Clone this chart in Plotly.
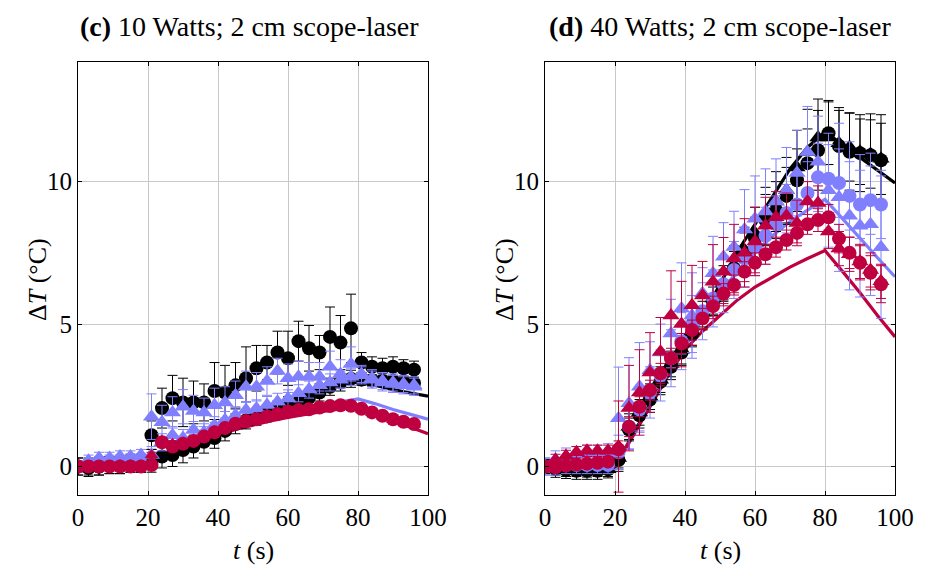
import plotly.graph_objects as go

# ---------------- data ----------------
T = [0, 3, 6, 9, 12, 15, 18, 21, 24, 27, 30, 33, 36, 39, 42, 45, 48, 51, 54, 57,
     60, 63, 66, 69, 72, 75, 78, 81, 84, 87, 90, 93, 96]
T_LINE = [0, 20, 25, 30, 35, 40, 45, 50, 55, 60, 65, 70, 75, 80, 85, 90, 95, 100]
X_TICKS = [0, 20, 40, 60, 80, 100]
Y_TICKS = [0, 5, 10]

# panel (c) 10 W
c_black_hi = [0.0, -0.05, 0.0, 0.05, 0.05, 0.1, 0.1,
              1.1, 2.05, 2.4, 2.25, 2.25, 2.25, 2.65, 2.6, 2.85, 3.1,
              3.45, 3.65, 4.0, 3.8, 4.4, 4.15, 4.0, 4.55, 4.35, 4.85,
              3.65, 3.5, 3.45, 3.5, 3.45, 3.4]
c_black_hi_err = [0.3, 0.3, 0.3, 0.3, 0.3, 0.3, 0.3,
                  0.5, 0.7, 0.8, 0.85, 0.75, 0.65, 1.0, 0.95, 0.8, 1.1,
                  0.8, 0.6, 0.75, 0.95, 0.7, 0.8, 0.6, 1.05, 0.95, 1.2,
                  0.35, 0.35, 0.35, 0.35, 0.3, 0.3]
c_black_lo = [0.0, 0.0, 0.0, 0.05, 0.05, 0.1, 0.1,
              0.2, 0.35, 0.4, 0.58, 0.7, 0.87, 1.0, 1.25, 1.5, 1.62,
              1.75, 1.87, 2.0, 2.15, 2.25, 2.42, 2.6, 2.8, 2.95, 3.08,
              3.05, 3.02, 3.0, 3.0, 2.97, 2.93]
c_black_lo_err = [0.3, 0.3, 0.3, 0.3, 0.3, 0.3, 0.3,
                  0.4, 0.4, 0.4, 0.45, 0.4, 0.4, 0.36, 0.35, 0.35, 0.3,
                  0.3, 0.3, 0.3, 0.3, 0.3, 0.3, 0.3, 0.3, 0.3, 0.3,
                  0.2, 0.2, 0.2, 0.2, 0.2, 0.2]
c_blue_hi = [0.0, 0.2, 0.3, 0.3, 0.35, 0.35, 0.4,
             1.75, 1.55, 1.9, 2.1, 1.95, 1.9, 2.15, 2.25, 2.5, 2.8,
             2.8, 3.0, 3.35, 3.1, 3.15, 3.15, 3.15, 3.5, 3.25, 3.6,
             3.25, 3.1, 3.0, 2.95, 2.9, 2.85]
c_blue_hi_err = [0.2, 0.2, 0.2, 0.2, 0.2, 0.2, 0.2,
                 0.8, 0.6, 0.55, 0.6, 0.55, 0.5, 0.6, 0.55, 0.5, 0.55,
                 0.5, 0.5, 0.45, 0.5, 0.55, 0.5, 0.5, 0.55, 0.5, 0.6,
                 0.3, 0.3, 0.3, 0.3, 0.3, 0.3]
c_blue_lo = [0.0, 0.1, 0.15, 0.2, 0.2, 0.25, 0.25,
             0.4, 0.85, 1.1, 1.0, 1.28, 1.2, 1.45, 1.63, 1.8, 1.98,
             2.04, 2.16, 2.27, 2.39, 2.57, 2.7, 2.85, 2.95, 3.05, 3.15,
             3.2, 3.05, 2.95, 2.9, 2.85, 2.8]
c_blue_lo_err = [0.2, 0.2, 0.2, 0.2, 0.2, 0.2, 0.2,
                 0.3, 0.3, 0.3, 0.3, 0.3, 0.3, 0.3, 0.3, 0.3, 0.3,
                 0.3, 0.3, 0.3, 0.3, 0.3, 0.3, 0.3, 0.3, 0.3, 0.3,
                 0.3, 0.3, 0.3, 0.3, 0.3, 0.3]
c_red = [0.0, 0.0, 0.0, 0.0, 0.0, 0.0, 0.0,
         0.05, 0.85, 0.7, 0.8, 0.9, 1.05, 1.2, 1.35, 1.5, 1.6,
         1.66, 1.76, 1.84, 1.92, 1.98, 2.01, 2.07, 2.12, 2.15, 2.13,
         2.03, 1.9, 1.78, 1.66, 1.57, 1.49]
c_red_err = [0.12, 0.12, 0.12, 0.12, 0.12, 0.12, 0.12,
             0.12, 0.12, 0.12, 0.12, 0.12, 0.12, 0.12, 0.12, 0.12, 0.12,
             0.12, 0.12, 0.12, 0.12, 0.12, 0.12, 0.12, 0.12, 0.12, 0.12,
             0.12, 0.12, 0.12, 0.12, 0.12, 0.12]
c_red_tri = [0.0, 0.02, 0.03, 0.03, 0.05, 0.05, 0.05,
             0.4, 0.9, 0.8, 0.85, 0.95, 1.1, 1.25, 1.4, 1.5, 1.6,
             1.68, 1.78, 1.85, 1.93, 1.98, 2.03, 2.08, 2.12, 2.15, 2.1,
             2.0, 1.88, 1.76, 1.64, 1.55, 1.47]
c_red_tri_err = [0.1, 0.1, 0.1, 0.1, 0.1, 0.1, 0.1,
                 0.1, 0.1, 0.1, 0.1, 0.1, 0.1, 0.1, 0.1, 0.1, 0.1,
                 0.1, 0.1, 0.1, 0.1, 0.1, 0.1, 0.1, 0.1, 0.1, 0.1,
                 0.1, 0.1, 0.1, 0.1, 0.1, 0.1]
c_line_black = [0, 0, 0.45, 0.8, 1.1, 1.35, 1.6, 1.85, 2.05, 2.25, 2.45, 2.65, 2.85, 3.0, 2.85, 2.7, 2.58, 2.47]
c_line_blue = [0, 0, 0.4, 0.7, 0.95, 1.15, 1.35, 1.55, 1.7, 1.85, 2.0, 2.15, 2.27, 2.37, 2.2, 2.0, 1.83, 1.66]
c_line_red = [0, 0, 0.4, 0.65, 0.9, 1.1, 1.3, 1.45, 1.6, 1.72, 1.83, 1.93, 2.02, 2.1, 1.85, 1.6, 1.38, 1.15]

# panel (d) 40 W
d_black_c = [0.0, -0.08, -0.12, -0.15, -0.15, -0.15, -0.1,
             0.23, 1.3, 1.8, 2.35, 2.97, 3.5, 4.0, 4.65, 5.3, 5.8,
             6.35, 6.95, 7.5, 8.0, 8.65, 9.0, 9.5, 10.05, 10.65, 11.1,
             11.7, 11.25, 11.05, 11.0, 10.93, 10.75]
d_black_c_err = [0.25, 0.3, 0.3, 0.3, 0.3, 0.3, 0.3,
                 0.4, 0.4, 0.45, 0.45, 0.45, 0.45, 0.45, 0.45, 0.5, 0.5,
                 0.55, 0.6, 0.7, 0.75, 0.9, 1.0, 1.0, 1.1, 1.2, 1.4,
                 1.1, 1.25, 1.35, 1.35, 1.45, 1.6]
d_black_t = [0.0, -0.05, -0.1, -0.1, -0.12, -0.1, -0.1,
             0.3, 1.4, 1.9, 2.45, 3.05, 3.6, 4.1, 4.75, 5.4, 5.9,
             6.45, 7.05, 7.6, 8.2, 8.8, 9.3, 9.7, 10.5, 11.04, 11.55,
             11.55, 11.35, 11.22, 11.05, 10.97, 10.8]
d_black_t_err = [0.25, 0.25, 0.25, 0.25, 0.25, 0.25, 0.25,
                 0.35, 0.45, 0.45, 0.45, 0.45, 0.45, 0.5, 0.5, 0.5, 0.55,
                 0.6, 0.7, 0.8, 0.9, 1.0, 1.05, 1.15, 1.3, 1.5, 1.35,
                 1.3, 1.25, 1.2, 1.15, 1.2, 1.25]
d_blue_c = [0.0, 0.0, 0.05, 0.05, 0.05, 0.05, 0.05,
            0.5, 1.4, 2.0, 2.6, 3.2, 3.8, 4.4, 5.0, 5.45, 5.9,
            6.4, 6.9, 7.3, 7.7, 8.1, 8.5, 8.9, 9.2, 9.6, 10.15,
            10.1, 9.95, 9.5, 9.2, 9.35, 9.2]
d_blue_c_err = [0.3, 0.3, 0.3, 0.3, 0.3, 0.3, 0.3,
                0.6, 0.8, 0.8, 0.9, 0.9, 1.0, 1.0, 1.0, 1.0, 1.0,
                1.0, 1.0, 1.0, 1.0, 1.0, 1.0, 1.0, 1.1, 1.1, 1.2,
                1.2, 1.2, 1.2, 1.2, 1.2, 1.2]
d_blue_t = [0.0, 0.25, 0.35, 0.4, 0.45, 0.45, 0.5,
            1.69, 2.22, 2.8, 3.38, 4.0, 4.67, 5.55, 5.3, 6.08, 6.78,
            7.36, 7.71, 8.32, 8.7, 8.95, 9.3, 9.7, 10.3, 11.04, 10.7,
            9.7, 9.45, 8.8, 8.45, 8.5, 7.7]
d_blue_t_err = [0.3, 0.3, 0.3, 0.3, 0.3, 0.3, 0.3,
                1.8, 1.6, 1.55, 1.0, 1.0, 1.2, 1.6, 1.5, 0.9, 1.3,
                1.2, 1.25, 1.4, 1.5, 1.5, 1.5, 1.5, 1.5, 1.6, 1.6,
                2.0, 2.6, 2.6, 2.5, 2.5, 2.5]
d_red_c = [0.0, -0.03, 0.03, 0.07, 0.1, 0.13, 0.17,
           0.6, 1.4, 2.1, 2.68, 3.27, 3.8, 4.32, 4.79, 5.2, 5.63,
           6.07, 6.37, 6.84, 7.15, 7.45, 7.7, 7.95, 8.2, 8.5, 8.65,
           8.75, 8.0, 7.5, 7.15, 6.8, 6.4]
d_red_c_err = [0.1, 0.1, 0.1, 0.1, 0.1, 0.1, 0.1,
               0.3, 0.35, 0.35, 0.35, 0.35, 0.35, 0.35, 0.35, 0.35, 0.35,
               0.35, 0.35, 0.35, 0.35, 0.35, 0.35, 0.35, 0.35, 0.35, 0.4,
               0.45, 0.5, 0.55, 0.6, 0.6, 0.65]
d_red_t = [0.0, 0.23, 0.37, 0.5, 0.55, 0.55, 0.55,
           0.7, 2.05, 2.6, 3.3, 4.03, 5.3, 5.0, 5.66, 6.0, 6.49,
           6.84, 7.3, 7.5, 7.9, 8.45, 8.75, 8.8, 8.55, 9.3, 9.25,
           8.25, 7.65, 7.45, 7.2, 6.9, 6.5]
d_red_t_err = [0.2, 0.2, 0.2, 0.2, 0.2, 0.2, 0.2,
               1.6, 1.5, 1.5, 1.4, 1.2, 1.57, 1.5, 1.4, 1.2, 1.3,
               1.2, 1.2, 1.2, 1.2, 1.0, 0.9, 0.8, 0.8, 0.7, 0.6,
               0.6, 0.6, 0.6, 0.6, 0.6, 0.6]
d_line_black = [0, 0, 1.1, 2.2, 3.2, 4.2, 5.25, 6.4, 7.55, 8.5, 9.45, 10.45, 11.2, 11.75, 11.3, 10.85, 10.4, 9.95]
d_line_blue = [0, 0, 1.05, 2.15, 3.2, 4.25, 5.2, 6.1, 6.85, 7.5, 8.1, 8.6, 9.0, 9.38, 8.7, 8.0, 7.33, 6.66]
d_line_red = [0, 0, 1.05, 2.1, 3.15, 4.1, 4.75, 5.3, 5.85, 6.3, 6.65, 7.0, 7.3, 7.58, 6.85, 6.1, 5.3, 4.55]

TITLES = ["<b>(c)</b> 10 Watts; 2 cm scope-laser", "<b>(d)</b> 40 Watts; 2 cm scope-laser"]

# ---------------- style ----------------
BLACK = "#000000"
BLUE = "#8080ff"
RED = "#bf0040"
FONT = "Liberation Serif"
W, H = 930, 568

fig = go.Figure()


def add_line(x, y, color, ax):
    fig.add_trace(go.Scatter(x=x, y=y, mode="lines", line=dict(color=color, width=3.2),
                             xaxis="x" + ax, yaxis="y" + ax, showlegend=False, hoverinfo="skip"))


def add_pts(y, err, color, symbol, ax, size=14):
    fig.add_trace(go.Scatter(
        x=T, y=y, mode="markers",
        marker=dict(color=color, symbol=symbol, size=size, line=dict(width=0)),
        error_y=dict(type="data", array=err, visible=True, color=color, thickness=1, width=5),
        xaxis="x" + ax, yaxis="y" + ax, showlegend=False))


# panel (c)
add_line(T_LINE, c_line_black, BLACK, "")
add_line(T_LINE, c_line_blue, BLUE, "")
add_line(T_LINE, c_line_red, RED, "")
add_pts(c_black_lo, c_black_lo_err, BLACK, "circle", "")
add_pts(c_black_hi, c_black_hi_err, BLACK, "circle", "")
add_pts(c_blue_lo, c_blue_lo_err, BLUE, "triangle-up", "", 15)
add_pts(c_blue_hi, c_blue_hi_err, BLUE, "triangle-up", "", 15)
add_pts(c_red_tri, c_red_tri_err, RED, "triangle-up", "", 12)
add_pts(c_red, c_red_err, RED, "circle", "")

# panel (d)
add_line(T_LINE, d_line_black, BLACK, "2")
add_line(T_LINE, d_line_blue, BLUE, "2")
add_line(T_LINE, d_line_red, RED, "2")
add_pts(d_black_t, d_black_t_err, BLACK, "triangle-up", "2", 15)
add_pts(d_black_c, d_black_c_err, BLACK, "circle", "2")
add_pts(d_blue_c, d_blue_c_err, BLUE, "circle", "2")
add_pts(d_blue_t, d_blue_t_err, BLUE, "triangle-up", "2", 15)
add_pts(d_red_t, d_red_t_err, RED, "triangle-up", "2", 15)
add_pts(d_red_c, d_red_c_err, RED, "circle", "2")


def px_x(p):
    return p / W


def px_y(p):
    return (H - p) / H


TICKFONT = dict(family=FONT, size=25, color="black")
common_x = dict(range=[0, 100], tickvals=X_TICKS, showgrid=True, gridcolor="#c8c8c8", gridwidth=1,
                zeroline=False, showline=True, linecolor="black", linewidth=1.2, mirror="ticks",
                ticks="inside", ticklen=4, tickcolor="black", tickfont=TICKFONT, automargin=False)
common_y = dict(range=[-1, 14.2], tickvals=Y_TICKS, showgrid=True, gridcolor="#c8c8c8", gridwidth=1,
                zeroline=False, showline=True, linecolor="black", linewidth=1.2, mirror="ticks",
                ticks="inside", ticklen=4, tickcolor="black", tickfont=TICKFONT, automargin=False)

y_dom = [px_y(495), px_y(62)]
fig.update_layout(
    width=W, height=H, margin=dict(l=0, r=0, t=0, b=0, pad=0), autosize=False,
    paper_bgcolor="white", plot_bgcolor="white",
    xaxis=dict(common_x, domain=[px_x(78), px_x(428)], anchor="y"),
    yaxis=dict(common_y, domain=y_dom, anchor="x"),
    xaxis2=dict(common_x, domain=[px_x(545), px_x(895)], anchor="y2"),
    yaxis2=dict(common_y, domain=y_dom, anchor="x2"),
    font=dict(family=FONT, color="black"),
)

ann = []
for cx, title in zip([250, 720], TITLES):
    ann.append(dict(x=px_x(cx), y=px_y(27), xref="paper", yref="paper", text=title, showarrow=False,
                    font=dict(family=FONT, size=28, color="black"), xanchor="center", yanchor="middle"))
for cx in [253, 720]:
    ann.append(dict(x=px_x(cx), y=px_y(550), xref="paper", yref="paper", text="<i>t</i> (s)", showarrow=False,
                    font=dict(family=FONT, size=26, color="black"), xanchor="center", yanchor="middle"))
for lx in [37, 504]:
    ann.append(dict(x=px_x(lx), y=px_y(280), xref="paper", yref="paper", text="Δ<i>T</i> (°C)", showarrow=False,
                    textangle=-90, font=dict(family=FONT, size=26, color="black"),
                    xanchor="center", yanchor="middle"))
fig.update_layout(annotations=ann)

fig.write_html(
    "out.html",
    config={"displayModeBar": False},
    post_script="document.body.style.margin='0';document.body.style.padding='0';"
                "document.body.style.overflow='hidden';",
)
